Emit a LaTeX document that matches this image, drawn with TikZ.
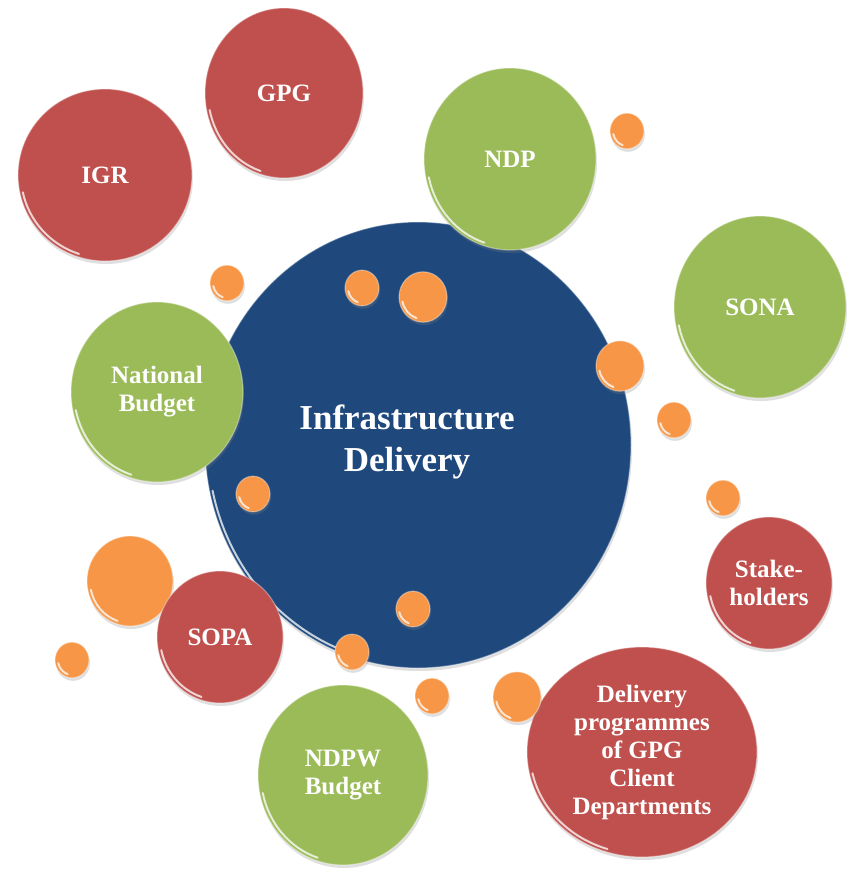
\documentclass[tikz,border=0pt]{standalone}
\usepackage{fontspec}
\setmainfont{Liberation Serif}
\usetikzlibrary{shapes.geometric,shadows,calc}
\definecolor{rouge}{HTML}{C0504D}
\definecolor{vert}{HTML}{9BBB59}
\definecolor{bleu}{HTML}{1F497D}
\definecolor{ambre}{HTML}{F79646}
\tikzset{
	rayons/.style 2 args={minimum width=2*#1pt, minimum height=2*#2pt},
	reflet/.style={path picture={
		\draw[white, line width=#1, opacity=.75, line cap=round]
			let \p1=(path picture bounding box.north east), \p2=(path picture bounding box.center) in
			({\x2+(\x1-\x2-3pt)*cos(192)}, {\y2+(\y1-\y2-3pt)*sin(192)})
			arc[start angle=192, end angle=252, x radius={\x1-\x2-3pt}, y radius={\y1-\y2-3pt}];
	}},
	reflet/.default=2pt,
	bulle/.style={ellipse, inner sep=0pt, draw=white, draw opacity=.35, line width=1.2pt,
		text=white, align=center, font=\bfseries\fontsize{25}{28}\selectfont,
		drop shadow={shadow xshift=1pt, shadow yshift=-3pt, opacity=.25}, reflet},
	goutte/.style={bulle, fill=ambre, reflet=2pt},
	titre/.style={text=white, align=center, font=\bfseries\fontsize{35}{42}\selectfont},
}
\begin{document}
\begin{tikzpicture}[x=1pt, y=-1pt]
	\useasboundingbox (0,0) rectangle (852,870);
	% Bulle centrale
	\node[bulle, fill=bleu, rayons={213}{223}] (infra) at (418,445) {};
	\node[titre] (infratitre) at (407,442) {Infrastructure\\Delivery};
	% Bulles autour
	\node[bulle, fill=rouge, rayons={87}{86}] (igr) at (105,175) {IGR};
	\node[bulle, fill=rouge, rayons={79}{85}] (gpg) at (284,93) {GPG};
	\node[bulle, fill=vert, rayons={86}{91}] (ndp) at (510,159) {NDP};
	\node[bulle, fill=vert, rayons={86}{91}] (sona) at (760,307) {SONA};
	\node[bulle, fill=vert, rayons={86}{90}] (budget) at (157,392) {National\\Budget};
	\node[bulle, fill=rouge, rayons={63}{66}] (stake) at (769,583) {Stake-\\holders};
	\node[goutte, rayons={43}{45}] (grosse) at (130,581) {};
	\node[bulle, fill=rouge, rayons={63}{66}] (sopa) at (220,637) {SOPA};
	\node[bulle, fill=vert, rayons={85}{90}] (ndpw) at (343,775) {NDPW\\Budget};
	\node[bulle, fill=rouge, rayons={115}{105}] (progr) at (642,752) {Delivery\\programmes\\of GPG\\Client\\Departments};
	% Gouttes orange
	\foreach \x/\y/\r [count=\i] in {627/131/17, 227/283/17, 362/288/17, 423/297/24, 620/366/24,
		674/420/17, 723/498/17, 253/494/17, 413/609/17, 352/652/17, 72/660/17, 432/696/17, 517/697/24}
		\node[goutte, rayons={\r}{1.05*\r}] (g\i) at (\x,\y) {};
\end{tikzpicture}
\end{document}
